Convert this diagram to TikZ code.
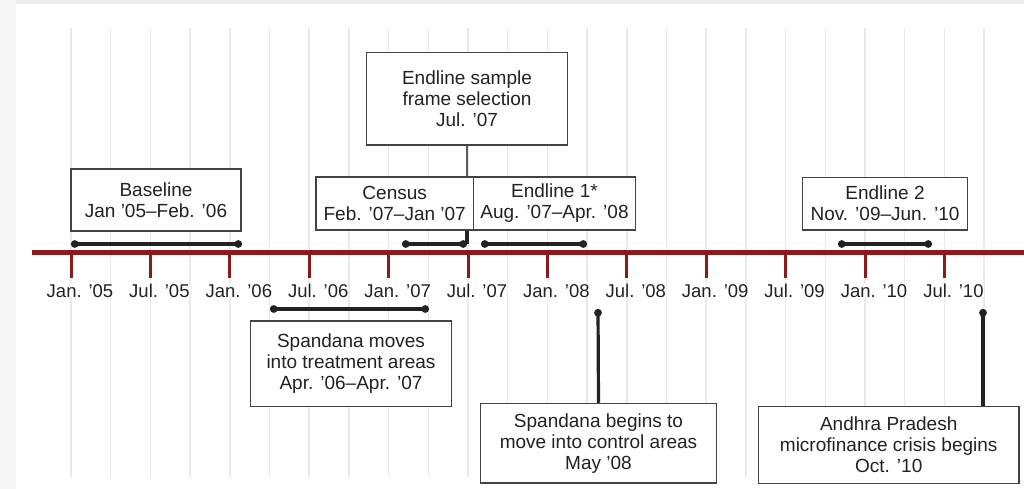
\documentclass[tikz,border=0pt]{standalone}
\usepackage{fontspec}
\setmainfont{Liberation Sans}
\usetikzlibrary{arrows.meta}
\definecolor{axisred}{HTML}{8C1A1A}
\definecolor{ink}{HTML}{222222}
\definecolor{gridgray}{HTML}{EAEAEA}
\tikzset{
  event/.style={draw=ink!85, line width=1.2pt, fill=white, text=ink, align=center,
    inner sep=0pt, font=\fontsize{19}{21}\selectfont},
  span/.style={draw=ink, line width=3.2pt, {Circle[length=7.5pt]}-{Circle[length=7.5pt]}},
  stem/.style={draw=ink, line width=3.2pt},
  datelabel/.style={fill=white, text=ink, inner sep=0pt, anchor=base,
    font=\fontsize{18.5}{21}\selectfont},
}
\begin{document}
\begin{tikzpicture}[x=1pt, y=-1pt]
\useasboundingbox (0,0) rectangle (1024,489);
% page shade
\fill[gray!6] (0,0) rectangle (1024,489);
\fill[gray!13] (16,0) rectangle (1024,4);
\fill[white] (16,4) rectangle (1024,489);
% quarter grid
\foreach \j in {0,...,23}
  \draw[gridgray, line width=1.5pt] ({71+\j*39.7},28) -- ({71+\j*39.7},477);
% time axis
\draw[axisred, line width=5pt] (32,252.5) -- (1024,252.5);
\foreach \k in {0,...,11}
  \draw[axisred, line width=3pt] ({71+\k*79.4},252) -- ({71+\k*79.4},278);
\foreach \k/\t in {0/Jan. ’05, 1/Jul. ’05, 2/Jan. ’06, 3/Jul. ’06, 4/Jan. ’07, 5/Jul. ’07,
    6/Jan. ’08, 7/Jul. ’08, 8/Jan. ’09, 9/Jul. ’09, 10/Jan. ’10, 11/Jul. ’10}
  \node[datelabel] (lab\k) at ({80+\k*79.4},297) {\t};

% spans
\coordinate (base-a) at (71,244);   \coordinate (base-b) at (242,244);
\coordinate (cens-a) at (402,244);  \coordinate (cens-b) at (467,244);
\coordinate (endA-a) at (481,244);  \coordinate (endA-b) at (587,244);
\coordinate (endB-a) at (838,244);  \coordinate (endB-b) at (932,244);
\coordinate (move-a) at (270,309);  \coordinate (move-b) at (429,309);
\coordinate (ctrl) at (598,309);
\coordinate (crisisdot) at (983,309);
\draw[span] (base-a) -- (base-b);
\draw[span] (cens-a) -- (cens-b);
\draw[span] (endA-a) -- (endA-b);
\draw[span] (endB-a) -- (endB-b);
\draw[span] (move-a) -- (move-b);

% events
\node[event, minimum width=170pt, minimum height=62pt] (baseline) at (156,200)
  {Baseline\\Jan ’05–Feb. ’06};
\node[event, minimum width=200.6pt, minimum height=92.7pt] (frame) at (467,98.7)
  {Endline sample\\frame selection\\Jul. ’07};
\node[event, minimum width=157.3pt, minimum height=53pt] (census) at (394.7,203.5)
  {Census\\Feb. ’07–Jan ’07};
\node[event, minimum width=162.4pt, minimum height=53pt] (endline1) at (554.5,203.5)
  {Endline 1*\\Aug. ’07–Apr. ’08};
\node[event, minimum width=165.4pt, minimum height=52.7pt] (endline2) at (885,203.7)
  {Endline 2\\Nov. ’09–Jun. ’10};
\node[event, minimum width=200.6pt, minimum height=85.7pt] (moves) at (351,363.9)
  {Spandana moves\\into treatment areas\\Apr. ’06–Apr. ’07};
\node[event, minimum width=236.3pt, minimum height=79.7pt] (control) at (598.5,443.2)
  {Spandana begins to\\move into control areas\\May ’08};
\node[event, minimum width=260.7pt, minimum height=76.6pt] (crisis) at (888.7,445)
  {Andhra Pradesh\\microfinance crisis begins\\Oct. ’10};

% stems
\draw[stem, draw=ink!75, line width=1.3pt] (frame.south) -- (frame.south |- census.north);
\draw[stem] (cens-b |- census.south) -- (cens-b);
\draw[stem, {Circle[length=7.5pt]}-] (ctrl) -- (control.north);
\draw[stem, {Circle[length=7.5pt]}-] (crisisdot) -- (crisisdot |- crisis.north);
\end{tikzpicture}
\end{document}
